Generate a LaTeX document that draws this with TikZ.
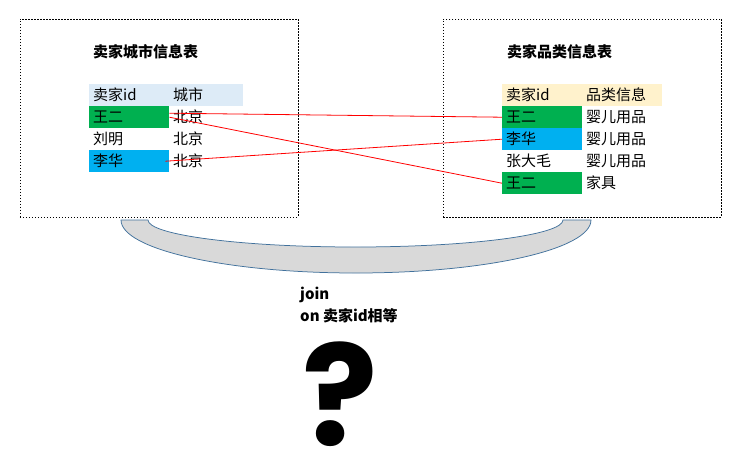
\documentclass[tikz,border=0pt]{standalone}
\usepackage{fontspec}
\setmainfont{Noto Sans CJK SC}
\newfontfamily\qfont{Poppins}
\definecolor{cgreen}{HTML}{00B050}
\definecolor{cblue}{HTML}{00B0F0}
\definecolor{hblue}{HTML}{DDEBF7}
\definecolor{hyel}{HTML}{FFF2CC}
\definecolor{bowlfill}{HTML}{D9D9D9}
\definecolor{bowledge}{HTML}{41719C}
\begin{document}
\begin{tikzpicture}[x=1pt,y=-1pt,
  cellbox/.style={anchor=north west, minimum height=22pt, inner xsep=4pt, inner ysep=0pt,
    text width=72pt, align=left, font=\fontsize{15}{17}\selectfont},
  cellnarrow/.style={cellbox, text width=66pt},
  frame/.style={draw=black, line width=0.9pt, dash pattern=on 1.5pt off 1.5pt},
  titletext/.style={anchor=west, inner sep=0pt, font=\fontsize{15}{17}\selectfont\bfseries},
  joinline/.style={draw=red, line width=0.8pt}]
\useasboundingbox (0,0) rectangle (747,459);
% frames
\node[frame, anchor=north west, minimum width=278pt, minimum height=198pt, inner sep=0pt] (boxL) at (19.5,18.5) {};
\node[frame, anchor=north west, minimum width=278pt, minimum height=198pt, inner sep=0pt] (boxR) at (443,18.5) {};
% titles
\node[titletext] (tL) at (93,52) {卖家城市信息表};
\node[titletext] (tR) at (507,52) {卖家品类信息表};
% left table
\node[cellbox, fill=hblue] (lh1) at (89,84) {卖家id};
\node[cellnarrow, fill=hblue] (lh2) at (169,84) {城市};
\node[cellbox, fill=cgreen] (l1a) at (89,106) {王二};
\node[cellnarrow] (l1b) at (169,106) {北京};
\node[cellbox] (l2a) at (89,128) {刘明};
\node[cellnarrow] (l2b) at (169,128) {北京};
\node[cellbox, fill=cblue] (l3a) at (89,150) {李华};
\node[cellnarrow] (l3b) at (169,150) {北京};
% right table
\node[cellbox, fill=hyel] (rh1) at (502,84) {卖家id};
\node[cellbox, fill=hyel] (rh2) at (582,84) {品类信息};
\node[cellbox, fill=cgreen] (r1a) at (502,106) {王二};
\node[cellbox] (r1b) at (582,106) {婴儿用品};
\node[cellbox, fill=cblue] (r2a) at (502,128) {李华};
\node[cellbox] (r2b) at (582,128) {婴儿用品};
\node[cellbox] (r3a) at (502,150) {张大毛};
\node[cellbox] (r3b) at (582,150) {婴儿用品};
\node[cellbox, fill=cgreen] (r4a) at (502,172) {王二};
\node[cellbox] (r4b) at (582,172) {家具};
% join lines
\draw[joinline] ([yshift=4pt]l1a.east) -- (r1a.west);
\draw[joinline] (l1a.east) -- (r4a.west);
\draw[joinline] ([xshift=-4pt]l3a.east) -- (r2a.west);
% bowl
\draw[fill=bowlfill, draw=bowledge, line width=0.75pt]
  (121,220) .. controls (121,249.3) and (226.2,273) .. (356,273)
  .. controls (485.8,273) and (591,249.3) .. (591,220)
  -- (563,220) .. controls (563,234.9) and (470.1,247) .. (355.5,247)
  .. controls (240.9,247) and (148,234.9) .. (148,220) -- cycle;
% join text
\node[anchor=west, inner sep=0pt, align=left, font=\fontsize{15}{22}\selectfont\bfseries] (jt) at (300,305) {join\\on 卖家id相等};
% question mark
\node[anchor=base, inner sep=0pt, font=\qfont\fontsize{140}{140}\selectfont\bfseries] (qm) at (340,445) {?};
\end{tikzpicture}
\end{document}
